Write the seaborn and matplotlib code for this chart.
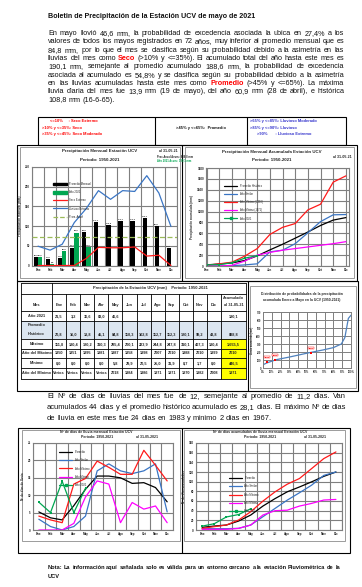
import numpy as np
import pandas as pd
import matplotlib
matplotlib.use("Agg")
import matplotlib.pyplot as plt
import seaborn as sns
from matplotlib.patches import Rectangle
from matplotlib.lines import Line2D

# ---- data ----
meses = ["Ene", "Feb", "Mar", "Abr", "May", "Jun", "Jul", "Ago", "Sep", "Oct", "Nov", "Dic"]

# precipitacion mensual (mm)
prom_mensual = [20.8, 16.0, 18.8, 45.1, 84.8, 110.3, 102.8, 112.7, 112.3, 120.1, 99.2, 43.8]
lluvia_2021 = [21.5, 3.2, 36.6, 83.0, 46.6]
seco_extremo = [0, 0, 0, 0, 18, 46, 45, 45, 47, 24, 26, 0]
lluvioso_extremo = [49, 39, 54, 109, 145, 190, 168, 190, 188, 228, 184, 99]
prom_anual = 72

# precipitacion acumulada (mm)
acum_prom = [21, 37, 56, 101, 186, 296, 399, 511, 624, 744, 843, 889]
acum_similar = [0, 0, 5, 20, 40, 260, 290, 410, 610, 815, 940, 945]
acum_max = [12, 40, 70, 180, 320, 580, 710, 780, 1030, 1135, 1540, 1655]
acum_min = [0, 0, 12, 90, 200, 250, 290, 320, 350, 380, 410, 447]
acum_2021 = [21.5, 24.7, 60.5, 143.5, 190.1]

# tabla
maximo = [111.8, 180.4, 120.2, 310.3, 285.4, 200.1, 223.9, 244.8, 247.8, 310.1, 407.3, 180.4]
anio_maximo = ["1950", "1951", "1995", "1981", "1987", "1958", "1998", "2007", "2010", "1988", "2010", "1999"]
minimo = [0.0, 0.0, 0.0, 0.0, 5.8, 29.9, 20.5, 25.0, 31.9, 8.7, 1.7, 0.0]
anio_minimo = ["Varios", "Varios", "Varios", "Varios", "2018", "1984", "1986", "1971", "1971", "1970", "1982", "2008"]
acumulado_col = ["190,1", "888,8", "1.655,5", "2010", "446,5", "1971"]

# distribucion de probabilidades (Ene-May)
prob_pct = [0, 4, 15, 30, 52, 68, 80, 89, 93, 95, 97, 100]
prob_mm = [40, 62, 104, 137, 190, 225, 255, 300, 380, 500, 620, 660]
marca_anio = ["2019", "2020", "2021"]
marca_pct = [5, 14, 54.8]
marca_mm = [75, 100, 190.1]

# dias de lluvia mensual
dias_prom = [5.2, 3.5, 2.9, 7.0, 11.7, 15.5, 15.5, 15.0, 13.4, 13.6, 12.2, 8.1]
dias_similar = [3.1, 1.0, 0.0, 1.0, 4.0, 17.0, 19.0, 17.0, 16.2, 17.0, 19.0, 5.2]
dias_max = [4.0, 2.9, 2.1, 13.2, 14.8, 19.8, 18.0, 16.0, 16.0, 22.9, 18.6, 14.1]
dias_min = [0, 0, 0, 1.9, 9.5, 14.1, 13.2, 2.1, 7.9, 6.0, 6.9, 2.1]
dias_2021 = [8, 5, 14, 5, 12]

# dias de lluvia acumulados
dacum_prom = [5.5, 8.2, 10.3, 18.5, 31, 49.5, 65, 79, 89, 99.6, 111, 120]
dacum_similar = [2.7, 2.7, 2.7, 3.4, 10.3, 27.5, 44.7, 61.8, 77, 92.7, 113, 120]
dacum_max = [3.4, 6.9, 10.3, 20.6, 37.8, 59.8, 79, 94.8, 106.5, 127, 147.7, 161.5]
dacum_min = [1.4, 1.4, 1.4, 3.4, 10.3, 31, 40, 41, 49.5, 55, 62, 63.2]
dacum_2021 = [8, 13, 27, 32, 44]

# ---- figure ----
sns.set_theme(style="white")
plt.rcParams['font.family'] = ['Liberation Sans', 'DejaVu Sans']
NARROW = ['Liberation Sans Narrow', 'Liberation Sans', 'DejaVu Sans']

W, H = 362, 587
fig = plt.figure(figsize=(W / 100, H / 100), dpi=100)
pg = fig.add_axes([0, 0, 1, 1])
pg.set_xlim(0, W)
pg.set_ylim(H, 0)
pg.axis('off')
renderer = fig.canvas.get_renderer()

RED, BLUE, GREEN, MAG = '#ff1a1a', '#3a75c4', '#00a651', '#ff00ff'
GRID = '#7f7f7f'


def frame(x0, y0, x1, y1, color='black', lw=0.8, fc='none'):
    pg.add_patch(Rectangle((x0, y0), x1 - x0, y1 - y0, fill=fc != 'none',
                           facecolor=fc, edgecolor=color, lw=lw))


def panel(x0, y0, x1, y1):
    return fig.add_axes([x0 / W, 1 - y1 / H, (x1 - x0) / W, (y1 - y0) / H])


def para(lines, x0, x1, y, dy, fs, bold=False, fit=None):
    # texto justificado palabra por palabra
    rows = []
    for i, line in enumerate(lines):
        arts = []
        for w in line.split(' '):
            color, weight = '#111111', 'bold' if bold else 'normal'
            if w.startswith('*'):
                w, color, weight = w.strip('*'), '#ff0000', 'bold'
            arts.append(pg.text(x0, y + i * dy, w, fontsize=fs, color=color,
                                fontweight=weight, va='baseline', ha='left'))
        rows.append((arts, [a.get_window_extent(renderer).width for a in arts]))
    space = 0.28 * fs * 100 / 72
    span = x1 - x0
    body = rows[:-1]
    idx = fit if fit is not None else range(len(body))
    k = span / max(sum(body[j][1]) + (len(body[j][0]) - 1) * space for j in idx)
    # que ninguna linea quede con espacios menores a 0.25 del normal
    k = min([k] + [span / (sum(wd) + (len(a) - 1) * 0.25 * space) for a, wd in body])
    fs2 = fs * k
    base = fs2 * 100 / 72 * 0.36
    for i, (arts, wd) in enumerate(rows):
        wd = [v * k for v in wd]
        if i == len(rows) - 1:
            gap = space * k
        else:
            gap = (span - sum(wd)) / max(len(arts) - 1, 1)
        x = x0
        for a, v in zip(arts, wd):
            a.set_fontsize(fs2)
            a.set_position((x, y + i * dy + base))
            x += v + gap


def style_ax(ax, ylim, ystep, half_grid=True, ylabel=''):
    ax.set_facecolor('white')
    ax.set_ylim(*ylim)
    ax.set_yticks(np.arange(ylim[0], ylim[1] + 0.1, ystep))
    ax.set_xticks(range(12))
    ax.set_xticklabels(meses)
    if half_grid:
        ax.set_xlim(-0.5, 11.5)
        ax.set_xticks(np.arange(-0.5, 12, 1), minor=True)
        ax.grid(True, which='minor', axis='x', color=GRID, lw=0.8)
        ax.grid(False, which='major', axis='x')
    else:
        ax.set_xlim(-0.05, 11.25)
        ax.grid(True, which='major', axis='x', color=GRID, lw=0.8)
    ax.grid(True, which='major', axis='y', color=GRID, lw=0.8)
    ax.tick_params(labelsize=2.2, length=0, pad=1.5)
    ax.tick_params(which='minor', length=0)
    for t in ax.get_xticklabels() + ax.get_yticklabels():
        t.set_fontweight('bold')
    for s in ax.spines.values():
        s.set_color(GRID)
        s.set_linewidth(0.8)
    ax.set_xlabel('')
    ax.set_ylabel(ylabel, fontsize=2.2, labelpad=2, fontweight='bold')


def small_legend(ax, handles, labels, anchor):
    ax.legend(handles, labels, loc='upper left', bbox_to_anchor=anchor, fontsize=1.9,
              frameon=False, handlelength=5, handleheight=1.3, labelspacing=1.6,
              borderaxespad=0)


# ---- texto superior ----
pg.text(48, 16, "Boletin de Precipitación de la Estación UCV de mayo de 2021",
        fontsize=5.1, fontweight='bold', va='center', color='#111111')

parrafo1 = [
    "En mayo llovió 46,6 mm, la probabilidad de excedencia asociada la ubica en 27,4% a los",
    "valores de todos los mayos registrados en 72 años, muy inferior al promedio mensual que es",
    "84,8 mm, por lo que el mes se clasifica según su probabilidad debido a la asimetría en las",
    "lluvias del mes como *Seco* (>10% y <=35%). El acumulado total del año hasta este mes es",
    "190,1 mm, semejante al promedio acumulado 188,6 mm, la probabilidad de excedencia",
    "asociada al acumulado es 54,8% y se clasifica según su probabilidad debido a la asimetría",
    "en las lluvias acumuladas hasta este mes como *Promedio* (>45% y <=65%). La máxima",
    "lluvia diaria del mes fue 13,9 mm (19 de mayo), del año 60,9 mm (28 de abril), e histórica",
    "108,8 mm (16-6-65).",
]
para(parrafo1, 48, 344, 32.5, 8.3, 5.3, fit=[0, 1, 2])

# leyenda de clasificacion
frame(38, 117, 346, 144.5, lw=0.8)
pg.plot([155, 155], [117, 144.5], color='black', lw=0.8)
pg.plot([247, 247], [117, 144.5], color='black', lw=0.8)
kw = dict(fontsize=2.9, fontweight='bold', va='center')
pg.text(50, 121, "<=10%     : Seco Extremo", color='#ff0000', **kw)
pg.text(42, 127.5, ">10% y <=35%: Seco", color='#ff0000', **kw)
pg.text(42, 134, ">35% y <=45%: Seco Moderado", color='#ff0000', **kw)
pg.text(201, 128, ">45% y <=65%:  Promedio", color='#111111', ha='center', **kw)
pg.text(250, 121, ">65% y <=85%: Lluvioso Moderado", color='#3333cc', **kw)
pg.text(250, 127.5, ">85% y <=90%: Lluvioso", color='#3333cc', **kw)
pg.text(257, 134, ">90%       : Lluvioso Extremo", color='#3333cc', **kw)

# ---- fila 1: marcos ----
frame(17, 144.5, 357, 281)
pg.plot([182, 182], [144.5, 281], color='black', lw=0.8)
frame(19.5, 146.5, 179.5, 278, color='#8c8c8c', lw=0.6)
frame(185, 146.5, 354, 278, color='#8c8c8c', lw=0.6)

tk = dict(fontsize=3.2, fontweight='bold', ha='center', va='center', family=NARROW)
pg.text(100, 151, "Precipitación Mensual Estación UCV", **tk)
pg.text(100, 160, "Periodo: 1950-2021", **tk)
pg.text(159, 151, "al 31-05-21", fontsize=2.6, fontweight='bold', va='center', family=NARROW)
pg.text(157, 156, "Prec.Anual Acum.: 888,8 mm", fontsize=1.9, fontweight='bold', va='center', family=NARROW)
pg.text(157, 160.5, "Año 2021 Acum.: 190,1 mm", fontsize=1.9, fontweight='bold', va='center',
        color=GREEN, family=NARROW)

pg.text(272, 151.5, "Precipitación Mensual Acumulada Estación UCV", **tk)
pg.text(272, 160, "Periodo: 1950-2021", **tk)
pg.text(333, 156.5, "al 31-05-21", fontsize=2.6, fontweight='bold', va='center', family=NARROW)

# grafico precipitacion mensual
ax1 = panel(32, 167, 177, 265.5)
df_bar = pd.DataFrame({
    'mes': meses + meses[:5],
    'mm': prom_mensual + lluvia_2021,
    'serie': ['Promedio Mensual'] * 12 + ['Año 2021'] * 5,
})
sns.barplot(data=df_bar, x='mes', y='mm', hue='serie', order=meses,
            hue_order=['Promedio Mensual', 'Año 2021'],
            palette={'Promedio Mensual': 'black', 'Año 2021': GREEN}, saturation=1,
            width=0.7, gap=0, errorbar=None, legend=False, linewidth=0, ax=ax1, zorder=2)
for cont in ax1.containers:
    ax1.bar_label(cont, labels=[f"{b.get_height():.1f}".replace('.', ',') for b in cont],
                  fontsize=1.7, padding=1, fontweight='bold')
sns.lineplot(x=np.arange(12), y=seco_extremo, color=RED, lw=0.9, ax=ax1, zorder=3)
sns.lineplot(x=np.arange(12), y=lluvioso_extremo, color=BLUE, lw=0.9, ax=ax1, zorder=3)
ax1.axhline(prom_anual, color='#9bbb59', ls=(0, (4, 2)), lw=0.9, zorder=3)
style_ax(ax1, (0, 250), 50, half_grid=True, ylabel='Precipitación mensual (mm)')
small_legend(ax1,
             [Rectangle((0, 0), 1, 1, color='black'), Rectangle((0, 0), 1, 1, color=GREEN),
              Line2D([], [], color=RED, lw=0.9), Line2D([], [], color=BLUE, lw=0.9),
              Line2D([], [], color='#9bbb59', lw=0.9, ls='--')],
             ['Promedio Mensual', 'Año 2021', 'Seco Extremo', 'Lluvioso Extremo', 'Prom. Anual'],
             (0.14, 0.86))

# grafico precipitacion acumulada
ax2 = panel(206, 168, 349, 266)
series_acum = [(acum_prom, 'black', 'Promedio Histórico'), (acum_similar, BLUE, 'Año Similar'),
               (acum_max, RED, 'Año Máximo (2010)'), (acum_min, MAG, 'Año Mínimo (1971)')]
for vals, col, lab in series_acum:
    sns.lineplot(x=np.arange(len(vals)), y=vals, color=col, lw=0.9, ax=ax2)
sns.lineplot(x=np.arange(len(acum_2021)), y=acum_2021, color=GREEN, lw=0.9, marker='s',
             markersize=1.6, markeredgewidth=0, ax=ax2)
style_ax(ax2, (0, 1800), 200, half_grid=False, ylabel='Precipitación acumulada (mm)')
small_legend(ax2,
             [Line2D([], [], color=c, lw=0.9) for _, c, _ in series_acum] +
             [Line2D([], [], color=GREEN, lw=0.9, marker='s', markersize=1.6)],
             [l for _, _, l in series_acum] + ['Año 2021'],
             (0.12, 0.85))

# ---- fila 2: tabla ----
frame(17, 281, 358, 391)
pg.plot([247.5, 247.5], [281, 391], color='black', lw=0.8)

col_x = [21, 52] + [52 + (221 - 52) / 12 * (i + 1) for i in range(12)] + [246]
row_y = [283, 294, 311, 321, 339, 349, 358, 368, 379]
# fondos
pg.add_patch(Rectangle((col_x[0], row_y[3]), col_x[-1] - col_x[0], row_y[4] - row_y[3],
                       facecolor='#dce6f1', lw=0))
pg.add_patch(Rectangle((col_x[-2], row_y[4]), col_x[-1] - col_x[-2], row_y[-1] - row_y[4],
                       facecolor='#ffff00', lw=0))
for yy in row_y:
    pg.plot([col_x[0], col_x[-1]], [yy, yy], color='black', lw=0.6)
for i, xx in enumerate(col_x):
    top = row_y[0] if i in (0, 1, len(col_x) - 1) else row_y[1]
    pg.plot([xx, xx], [top, row_y[-1]], color='black', lw=0.6)
pg.text(150, 288.5, "Precipitación de la Estación UCV (mm)    Periodo: 1950-2021",
        fontsize=2.9, fontweight='bold', ha='center', va='center', family=NARROW)

cell = dict(fontsize=2.8, fontweight='bold', ha='center', va='center', family=NARROW)
centers = [(col_x[i] + col_x[i + 1]) / 2 for i in range(len(col_x) - 1)]
fmt = lambda v: f"{v:.1f}".replace('.', ',')
pg.text(centers[0], 305, "Mes", **cell)
for c, m in zip(centers[1:13], meses):
    pg.text(c, 305, m, **cell)
pg.text(centers[13], 298, "Acumulado", **cell)
pg.text(centers[13], 305, "al 31-05-21", **cell)

filas = [
    ("Año 2021", [fmt(v) for v in lluvia_2021], 316),
    ("Histórico", [fmt(v) for v in prom_mensual], 334),
    ("Máximo", [fmt(v) for v in maximo], 344),
    ("Año del Máximo", anio_maximo, 353.5),
    ("Mínimo", [fmt(v) for v in minimo], 363),
    ("Año del Mínimo", anio_minimo, 373.5),
]
pg.text(centers[0], 325, "Promedio", **cell)
for (lab, vals, yy), acc in zip(filas, acumulado_col):
    pg.text(centers[0], yy, lab, **cell)
    for c, v in zip(centers[1:13], vals):
        pg.text(c, yy, v, **cell)
    pg.text(centers[13], yy, acc, **cell)

# distribucion de probabilidades
frame(250, 286, 356, 388, color='#8c8c8c', lw=0.6)
pg.text(302, 294, "Distribución de probabilidades de la precipitación",
        fontsize=2.4, fontweight='bold', ha='center', va='center', family=NARROW)
pg.text(302, 300.5, "acumulada Enero a Mayo en la UCV (1950-2021)",
        fontsize=2.4, fontweight='bold', ha='center', va='center', family=NARROW)
ax3 = panel(263, 312, 351, 368)
sns.lineplot(x=prob_pct, y=prob_mm, color='#4f81bd', lw=0.9, ax=ax3)
sns.scatterplot(x=marca_pct, y=marca_mm, color='red', marker='s', s=3, linewidth=0, ax=ax3, zorder=4)
for a, px, py in zip(marca_anio, marca_pct, marca_mm):
    ax3.annotate(a, (px, py), xytext=(0, 3), textcoords='offset points', fontsize=1.6,
                 color='red', ha='center', fontweight='bold',
                 bbox=dict(boxstyle='square,pad=0.2', fc='white', ec='red', lw=0.3))
ax3.set_facecolor('white')
ax3.set_xlim(0, 100)
ax3.set_ylim(0, 700)
ax3.set_xticks(range(0, 101, 10))
ax3.set_xticklabels([f"{v}%" for v in range(0, 101, 10)])
ax3.set_yticks(range(0, 701, 100))
ax3.grid(True, color=GRID, lw=0.7)
ax3.tick_params(labelsize=1.8, length=0, pad=1.5)
for t in ax3.get_xticklabels() + ax3.get_yticklabels():
    t.set_fontweight('bold')
for s in ax3.spines.values():
    s.set_color(GRID)
    s.set_linewidth(0.7)
ax3.set_ylabel('Lluvia acumulada (mm)', fontsize=1.8, labelpad=2, fontweight='bold')

# ---- texto intermedio ----
parrafo2 = [
    "El Nº de días de lluvias del mes fue de 12, semejante al promedio de 11,2 días. Van",
    "acumulados 44 días y el promedio histórico acumulado es 28,1 días. El máximo Nº de días",
    "de lluvia en este mes fue 24 días en 1983 y mínimo 2 días en 1967.",
]
para(parrafo2, 47, 346, 395.5, 11, 5.3)

# ---- fila 3 ----
frame(18, 428, 350, 553)
pg.plot([181.5, 181.5], [428, 553], color='black', lw=0.8)
frame(22, 430, 179.5, 540.5, color='#8c8c8c', lw=0.6)
frame(184, 430, 345, 540.5, color='#8c8c8c', lw=0.6)

tk3 = dict(fontsize=2.5, fontweight='bold', ha='center', va='center', family=NARROW)
pg.text(96, 432, "Nº de días de lluvia mensual Estación UCV", **tk3)
pg.text(97, 437.5, "Periodo: 1950-2021", **tk3)
pg.text(147, 437.5, "al 31-05-2021", **tk3)
pg.text(260, 432, "Nº de días acumulados de lluvia mensual Estación UCV", **tk3)
pg.text(260, 437.5, "Periodo: 1950-2021", **tk3)
pg.text(315, 437.5, "al 31-05-2021", **tk3)

labels_dias = ['Promedio', 'Año Similar', 'Año Máximo', 'Año Mínimo', 'Año 2021']

ax4 = panel(33, 443, 173, 530)
for vals, col in [(dias_prom, 'black'), (dias_similar, BLUE), (dias_max, RED), (dias_min, MAG)]:
    sns.lineplot(x=np.arange(len(vals)), y=vals, color=col, lw=0.9, ax=ax4)
sns.lineplot(x=np.arange(len(dias_2021)), y=dias_2021, color=GREEN, lw=0.9, marker='s',
             markersize=1.6, markeredgewidth=0, ax=ax4)
style_ax(ax4, (0, 25), 5, half_grid=True, ylabel='Nº de días de lluvia')
small_legend(ax4,
             [Line2D([], [], color=c, lw=0.9) for c in ['black', BLUE, RED, MAG]] +
             [Line2D([], [], color=GREEN, lw=0.9, marker='s', markersize=1.6)],
             labels_dias, (0.18, 0.93))

ax5 = panel(196, 443, 342, 530)
for vals, col in [(dacum_prom, 'black'), (dacum_similar, BLUE), (dacum_max, RED), (dacum_min, MAG)]:
    sns.lineplot(x=np.arange(len(vals)), y=vals, color=col, lw=0.9, ax=ax5)
sns.lineplot(x=np.arange(len(dacum_2021)), y=dacum_2021, color=GREEN, lw=0.9, marker='s',
             markersize=1.6, markeredgewidth=0, ax=ax5)
style_ax(ax5, (0, 180), 20, half_grid=True, ylabel='Nº de días acumulados')
small_legend(ax5,
             [Line2D([], [], color=c, lw=0.9) for c in ['black', BLUE, RED, MAG]] +
             [Line2D([], [], color=GREEN, lw=0.9, marker='s', markersize=1.6)],
             labels_dias, (0.22, 0.63))

# ---- nota ----
para(["Nota: La información aquí señalada solo es válida para un entorno cercano a la estación Pluviométrica de la",
      "UCV"], 48, 340, 567, 9.3, 4.5, bold=True)

fig.savefig("out.png", dpi=100)
